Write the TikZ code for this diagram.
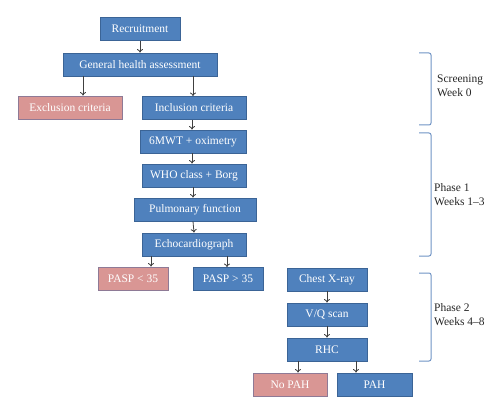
\documentclass[tikz,border=0pt]{standalone}
\usepackage{fontspec}
\setmainfont{Liberation Serif}
\usetikzlibrary{arrows.meta}
\definecolor{boxblue}{HTML}{4F81BD}
\definecolor{boxblueedge}{HTML}{3B6496}
\definecolor{boxpink}{HTML}{D99694}
\definecolor{boxpinkedge}{HTML}{8E7A96}
\definecolor{bracecol}{HTML}{6F93C4}
\definecolor{arrowcol}{HTML}{404040}
\tikzset{
  bbox/.style={draw=boxblueedge, fill=boxblue, text=white, line width=0.8pt,
    minimum height=23pt, inner sep=0pt, font=\fontsize{11.5}{13}\selectfont},
  pbox/.style={bbox, draw=boxpinkedge, fill=boxpink},
  arr/.style={draw=arrowcol, line width=0.8pt, -{To[length=3.5pt,width=6pt]}},
  brace/.style={draw=bracecol, line width=1pt, rounded corners=2pt},
  phase/.style={anchor=west, align=left, inner sep=0pt, text=black!85,
    font=\fontsize{11.5}{14}\selectfont}
}
\begin{document}
\begin{tikzpicture}[x=1pt,y=-1pt]
\useasboundingbox (0,0) rectangle (500,414);
\node[bbox, minimum width=80pt]  (rec)   at (140,29)    {Recruitment};
\node[bbox, minimum width=154pt] (gen)   at (140,64.5)  {General health assessment};
\node[pbox, minimum width=104pt] (exc)   at (70,107.5)  {Exclusion criteria};
\node[bbox, minimum width=104pt] (inc)   at (194,108)   {Inclusion criteria};
\node[bbox, minimum width=106pt] (mwt)   at (193,141.5) {6MWT + oximetry};
\node[bbox, minimum width=104pt] (who)   at (194,175.5) {WHO class + Borg};
\node[bbox, minimum width=122pt] (pul)   at (195,209.5) {Pulmonary function};
\node[bbox, minimum width=104pt] (echo)  at (194,244.5) {Echocardiograph};
\node[pbox, minimum width=70pt]  (pl)    at (133,278.5) {PASP < 35};
\node[bbox, minimum width=70pt]  (pg)    at (228,279)   {PASP > 35};
\node[bbox, minimum width=80pt]  (cx)    at (327,279.5) {Chest X-ray};
\node[bbox, minimum width=80pt]  (vq)    at (327,314.5) {V/Q scan};
\node[bbox, minimum width=80pt]  (rhc)   at (327,349.5) {RHC};
\node[pbox, minimum width=74pt]  (nopah) at (290,384.5) {No PAH};
\node[bbox, minimum width=75pt]  (pah)   at (374.5,384.5) {PAH};

\draw[arr] (rec) -- (gen);
\draw[arr] ([xshift=13pt]exc.north |- gen.south) -- ([xshift=13pt]exc.north);
\draw[arr] ([xshift=-1pt]inc.north |- gen.south) -- ([xshift=-1pt]inc.north);
\draw[arr] ([xshift=-1pt]mwt.north |- inc.south) -- ([xshift=-1pt]mwt.north);
\draw[arr] ([xshift=-1pt]mwt.south) -- ([xshift=-1pt]mwt.south |- who.north);
\draw[arr] ([xshift=-1pt]who.south) -- ([xshift=-1pt]who.south |- pul.north);
\draw[arr] ([xshift=-1pt]pul.south -| echo.north) -- ([xshift=0pt]echo.north);
\draw[arr] ([xshift=18pt]pl.north |- echo.south) -- ([xshift=18pt]pl.north);
\draw[arr] ([xshift=-1pt]pg.north |- echo.south) -- ([xshift=-1pt]pg.north);
\draw[arr] (cx) -- (vq);
\draw[arr] (vq) -- (rhc);
\draw[arr] ([xshift=8pt]nopah.north |- rhc.south) -- ([xshift=8pt]nopah.north);
\draw[arr] ([xshift=-18.5pt]pah.north |- rhc.south) -- ([xshift=-18.5pt]pah.north);

\coordinate (b1t) at (419,53);
\coordinate (b1b) at (419,125);
\coordinate (b2t) at (419,133);
\coordinate (b2b) at (419,256);
\coordinate (b3t) at (419,273);
\coordinate (b3b) at (419,361);
\draw[brace] (b1t) -- ++(12,0) -- ++(0,72) -- (b1b);
\draw[brace] (b2t) -- ++(12,0) -- ++(0,123) -- (b2b);
\draw[brace] (b3t) -- ++(12,0) -- ++(0,88) -- (b3b);
\node[phase] (s0) at (437,86)  {Screening\\Week 0};
\node[phase] (p1) at (434,195) {Phase 1\\Weeks 1--3};
\node[phase] (p2) at (434,315) {Phase 2\\Weeks 4--8};
\end{tikzpicture}
\end{document}
